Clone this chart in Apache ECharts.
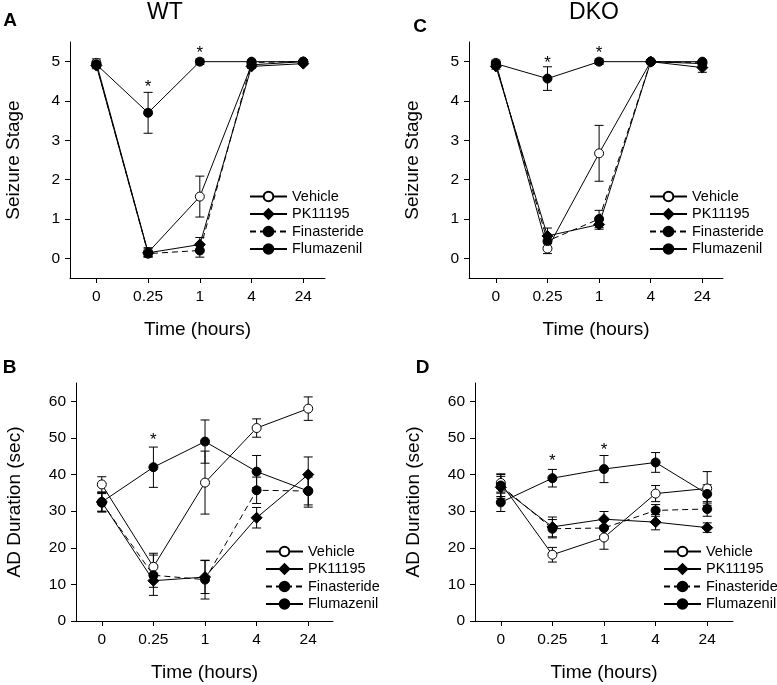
<!DOCTYPE html>
<html><head><meta charset="utf-8">
<script src="https://cdn.jsdelivr.net/npm/echarts@6/dist/echarts.min.js"></script>
<style>html,body{margin:0;padding:0;background:#fff}#c{width:777px;height:685px}</style>
</head><body><div id="c"></div>
<script>
// ---------- data ----------
const timeLabels = ['0', '0.25', '1', '4', '24'];
const seriesNames = ['Vehicle', 'PK11195', 'Finasteride', 'Flumazenil'];
const stageTicks = [0, 1, 2, 3, 4, 5];
const durationTicks = [0, 10, 20, 30, 40, 50, 60];

// Panel A: WT, seizure stage (mean, SEM)
const wtStageVehicle      = [4.97, 0.15, 1.57, 4.92, 5.00];
const wtStageVehicleSem   = [0.10, 0.12, 0.52, 0.05, 0.03];
const wtStagePK           = [4.90, 0.14, 0.35, 4.88, 4.95];
const wtStagePKSem        = [0.08, 0.10, 0.18, 0.05, 0.03];
const wtStageFin          = [4.93, 0.12, 0.20, 4.98, 5.00];
const wtStageFinSem       = [0.08, 0.08, 0.17, 0.03, 0.03];
const wtStageFlu          = [4.93, 3.70, 5.00, 5.00, 5.00];
const wtStageFluSem       = [0.08, 0.52, 0.07, 0.03, 0.03];
const wtStageStars        = [[1, 4.45], [2, 5.32]];

// Panel C: DKO, seizure stage
const dkoStageVehicle     = [4.97, 0.25, 2.67, 5.00, 4.95];
const dkoStageVehicleSem  = [0.07, 0.13, 0.71, 0.03, 0.05];
const dkoStagePK          = [4.88, 0.57, 0.86, 5.00, 4.85];
const dkoStagePKSem       = [0.07, 0.20, 0.12, 0.03, 0.12];
const dkoStageFin         = [4.93, 0.44, 1.00, 5.00, 4.98];
const dkoStageFinSem      = [0.07, 0.15, 0.22, 0.03, 0.05];
const dkoStageFlu         = [4.95, 4.57, 5.00, 5.00, 5.00];
const dkoStageFluSem      = [0.05, 0.30, 0.07, 0.03, 0.03];
const dkoStageStars       = [[1, 5.06], [2, 5.32]];

// Panel B: WT, AD duration (sec)
const wtAdVehicle         = [37.3, 14.8, 37.8, 52.7, 58.0];
const wtAdVehicleSem      = [2.1, 3.7, 8.6, 2.5, 3.2];
const wtAdPK              = [32.5, 11.0, 12.0, 28.2, 40.0];
const wtAdPKSem           = [2.5, 1.8, 4.5, 2.8, 4.8];
const wtAdFin             = [32.3, 12.5, 11.3, 35.7, 35.5];
const wtAdFinSem          = [2.5, 5.5, 5.3, 3.6, 3.8];
const wtAdFlu             = [32.5, 42.0, 49.0, 40.8, 35.5];
const wtAdFluSem          = [2.7, 5.5, 5.9, 4.4, 4.4];
const wtAdStars           = [[1, 50.5]];

// Panel D: DKO, AD duration (sec)
const dkoAdVehicle        = [37.7, 18.1, 22.8, 34.8, 36.2];
const dkoAdVehicleSem     = [2.5, 2.0, 3.2, 2.2, 4.6];
const dkoAdPK             = [36.5, 25.7, 27.8, 27.0, 25.5];
const dkoAdPKSem          = [3.0, 2.7, 2.1, 2.1, 1.3];
const dkoAdFin            = [37.0, 25.2, 25.4, 30.2, 30.6];
const dkoAdFinSem         = [3.0, 2.5, 2.1, 1.6, 2.0];
const dkoAdFlu            = [32.4, 39.0, 41.5, 43.3, 34.7];
const dkoAdFluSem         = [2.5, 2.4, 3.7, 2.7, 2.5];
const dkoAdStars          = [[1, 44.6], [2, 47.8]];

// ---------- layout / style ----------
const FONT = '"Liberation Sans", Arial, Helvetica, sans-serif';
const BLACK = '#000';

const panels = [
  { grid: {left: 70, top: 42, width: 255, height: 236}, xMin: -0.51, xMax: 4.42, yMin: -0.5, yMax: 5.5,
    yTicks: stageTicks, yName: 'Seizure Stage', yNameGap: 47, legend: {left: 249, top: 189},
    series: [[wtStageVehicle, wtStageVehicleSem], [wtStagePK, wtStagePKSem], [wtStageFin, wtStageFinSem], [wtStageFlu, wtStageFluSem]],
    stars: wtStageStars },
  { grid: {left: 469, top: 42, width: 254, height: 236}, xMin: -0.52, xMax: 4.4, yMin: -0.5, yMax: 5.5,
    yTicks: stageTicks, yName: 'Seizure Stage', yNameGap: 47, legend: {left: 649, top: 189},
    series: [[dkoStageVehicle, dkoStageVehicleSem], [dkoStagePK, dkoStagePKSem], [dkoStageFin, dkoStageFinSem], [dkoStageFlu, dkoStageFluSem]],
    stars: dkoStageStars },
  { grid: {left: 76, top: 383, width: 257, height: 238}, xMin: -0.5, xMax: 4.48, yMin: 0, yMax: 65,
    yTicks: durationTicks, yName: 'AD Duration (sec)', yNameGap: 52, legend: {left: 265, top: 544},
    series: [[wtAdVehicle, wtAdVehicleSem], [wtAdPK, wtAdPKSem], [wtAdFin, wtAdFinSem], [wtAdFlu, wtAdFluSem]],
    stars: wtAdStars },
  { grid: {left: 475, top: 383, width: 258, height: 238}, xMin: -0.5, xMax: 4.5, yMin: 0, yMax: 65,
    yTicks: durationTicks, yName: 'AD Duration (sec)', yNameGap: 52, legend: {left: 663, top: 544},
    series: [[dkoAdVehicle, dkoAdVehicleSem], [dkoAdPK, dkoAdPKSem], [dkoAdFin, dkoAdFinSem], [dkoAdFlu, dkoAdFluSem]],
    stars: dkoAdStars }
];

const seriesStyles = [
  {symbol: 'circle', symbolSize: 9, fill: '#fff', dash: 'solid'},
  {symbol: 'diamond', symbolSize: 11, fill: BLACK, dash: 'solid'},
  {symbol: 'circle', symbolSize: 9, fill: BLACK, dash: [6, 4]},
  {symbol: 'circle', symbolSize: 9, fill: BLACK, dash: 'solid'}
];

const xIdx = timeLabels.map((_, i) => i);

function errorBarRender(params, api) {
  const x = api.value(0);
  const lo = api.coord([x, api.value(1)]);
  const hi = api.coord([x, api.value(2)]);
  const hw = 4.5;
  const st = {stroke: BLACK, lineWidth: 1};
  return {type: 'group', children: [
    {type: 'line', shape: {x1: lo[0], y1: lo[1], x2: hi[0], y2: hi[1]}, style: st},
    {type: 'line', shape: {x1: lo[0] - hw, y1: lo[1], x2: lo[0] + hw, y2: lo[1]}, style: st},
    {type: 'line', shape: {x1: hi[0] - hw, y1: hi[1], x2: hi[0] + hw, y2: hi[1]}, style: st}
  ]};
}

function starRender(params, api) {
  const p = api.coord([api.value(0), api.value(1)]);
  return {type: 'text', x: p[0], y: p[1] + 4,
    style: {text: '*', fontSize: 17, fontFamily: FONT, fill: BLACK, align: 'center', verticalAlign: 'middle'}};
}

const grids = [], xAxes = [], yAxes = [], legends = [], series = [];
panels.forEach((pn, i) => {
  grids.push(Object.assign({containLabel: false}, pn.grid));
  xAxes.push({
    type: 'value', gridIndex: i, min: pn.xMin, max: pn.xMax,
    axisLine: {show: true, onZero: false, lineStyle: {color: BLACK, width: 1}},
    axisTick: {show: true, customValues: xIdx, length: 5, lineStyle: {color: BLACK, width: 1}},
    axisLabel: {customValues: xIdx, formatter: v => timeLabels[Math.round(v)], fontSize: 15.5, color: BLACK, fontFamily: FONT, margin: 11},
    splitLine: {show: false},
    name: 'Time (hours)', nameLocation: 'middle', nameGap: 42,
    nameTextStyle: {fontSize: 19, color: BLACK, fontFamily: FONT}
  });
  yAxes.push({
    type: 'value', gridIndex: i, min: pn.yMin, max: pn.yMax,
    axisLine: {show: true, onZero: false, lineStyle: {color: BLACK, width: 1}},
    axisTick: {show: true, customValues: pn.yTicks, length: 5, lineStyle: {color: BLACK, width: 1}},
    axisLabel: {customValues: pn.yTicks, fontSize: 15.5, color: BLACK, fontFamily: FONT, margin: 10},
    splitLine: {show: false},
    name: pn.yName, nameLocation: 'middle', nameGap: pn.yNameGap,
    nameTextStyle: {fontSize: 19, color: BLACK, fontFamily: FONT}
  });
  legends.push({
    left: pn.legend.left, top: pn.legend.top, orient: 'vertical',
    itemWidth: 37, itemHeight: 12, itemGap: 2.5, padding: 0, selectedMode: false,
    data: seriesNames,
    textStyle: {fontSize: 14.5, color: BLACK, fontFamily: FONT}
  });
  pn.series.forEach((pair) => {
    const [mean, sem] = pair;
    series.push({
      type: 'custom', xAxisIndex: i, yAxisIndex: i, z: 1, silent: true,
      data: mean.map((m, j) => [j, m - sem[j], m + sem[j]]),
      encode: {x: 0, y: [1, 2]},
      renderItem: errorBarRender
    });
  });
  pn.series.forEach((pair, k) => {
    const [mean] = pair;
    const s = seriesStyles[k];
    series.push({
      type: 'line', name: seriesNames[k], xAxisIndex: i, yAxisIndex: i, z: 3 + k,
      data: mean.map((m, j) => [j, m]),
      symbol: s.symbol, symbolSize: s.symbolSize, showSymbol: true,
      lineStyle: {color: BLACK, width: 1, type: s.dash},
      itemStyle: {color: s.fill, borderColor: BLACK, borderWidth: 1},
      emphasis: {disabled: true}
    });
  });
  series.push({
    type: 'custom', xAxisIndex: i, yAxisIndex: i, z: 10, silent: true,
    data: pn.stars, encode: {x: 0, y: 1}, renderItem: starRender
  });
});

const titleStyle = (t, size, weight) => ({text: t, fontSize: size, fontFamily: FONT, fontWeight: weight, fill: BLACK, align: 'center', verticalAlign: 'middle'});

const option = {
  animation: false,
  backgroundColor: '#fff',
  textStyle: {fontFamily: FONT},
  grid: grids, xAxis: xAxes, yAxis: yAxes, legend: legends, series: series,
  graphic: [
    {type: 'text', x: 165, y: 13, style: titleStyle('WT', 23, 'normal')},
    {type: 'text', x: 594, y: 13, style: titleStyle('DKO', 23, 'normal')},
    {type: 'text', x: 10, y: 21, style: titleStyle('A', 19, 'bold')},
    {type: 'text', x: 420, y: 27, style: titleStyle('C', 19, 'bold')},
    {type: 'text', x: 9.5, y: 368, style: titleStyle('B', 19, 'bold')},
    {type: 'text', x: 422.5, y: 368, style: titleStyle('D', 19, 'bold')}
  ]
};

const chart = echarts.init(document.getElementById('c'), null, {renderer: 'canvas'});
chart.setOption(option);
</script>
</body></html>
